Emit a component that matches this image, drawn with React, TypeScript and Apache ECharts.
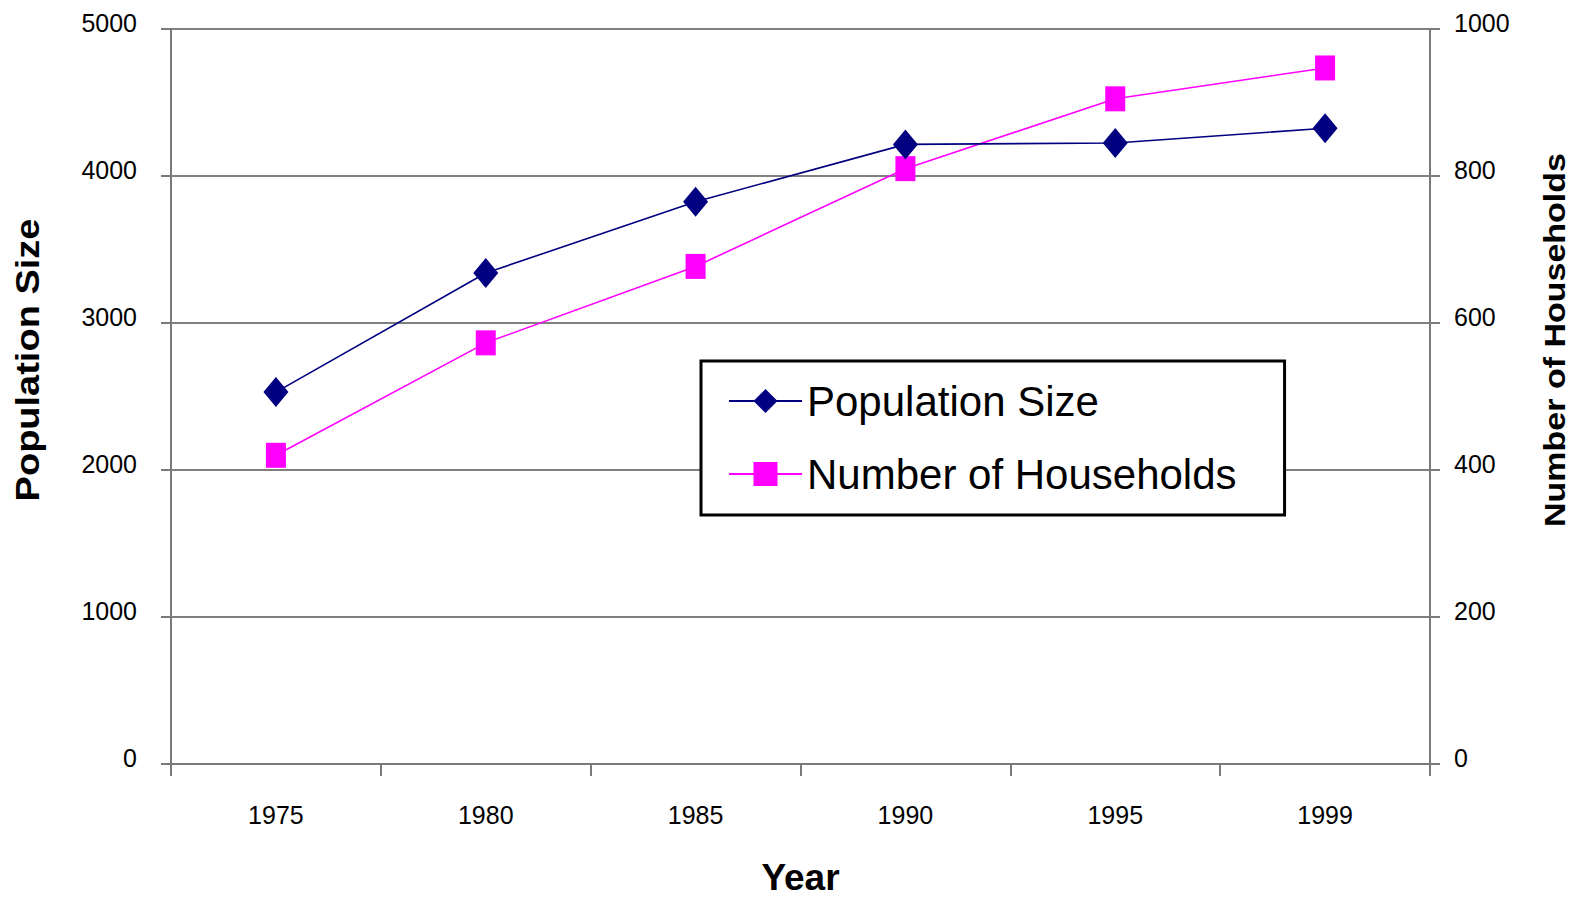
import React, { useEffect, useRef } from "react";
import * as echarts from "echarts";

const years = ["1975", "1980", "1985", "1990", "1995", "1999"];
const populationSize = [2530, 3340, 3825, 4215, 4225, 4325];
const households = [420, 573, 677, 810, 905, 947];

const leftTitle = "Population Size";
const rightTitle = "Number of Households";
const xTitle = "Year";

const FONT = "'Liberation Sans', Arial, sans-serif";
const AXIS_GRAY = "#7a7a7a";

export default function App() {
  const ref = useRef<HTMLDivElement>(null);
  useEffect(() => {
    const chart = echarts.init(ref.current!, null, { renderer: "svg" });
    const plain = (v: number) => String(v);
    chart.setOption({
      animation: false,
      backgroundColor: "#ffffff",
      grid: {
        left: 171,
        right: 151,
        top: 29,
        bottom: 133,
        containLabel: false,
        outerBoundsMode: "none",
      },
      legend: {
        orient: "vertical",
        left: 701,
        top: 361,
        padding: [19, 48, 20, 27],
        itemWidth: 73,
        itemHeight: 30,
        itemGap: 31,
        borderColor: "#000",
        borderWidth: 3,
        backgroundColor: "#fff",
        textStyle: { fontFamily: FONT, fontSize: 42, color: "#000" },
        data: [leftTitle, rightTitle],
      },
      xAxis: {
        type: "category",
        data: years,
        boundaryGap: true,
        name: xTitle,
        nameLocation: "middle",
        nameGap: 97,
        nameTextStyle: { fontFamily: FONT, fontWeight: "bold", fontSize: 37, lineHeight: 32, color: "#000" },
        axisLine: { lineStyle: { color: AXIS_GRAY, width: 2 } },
        axisTick: { show: true, length: 12, lineStyle: { color: AXIS_GRAY, width: 2 } },
        axisLabel: { margin: 38, fontFamily: FONT, fontSize: 25, color: "#000" },
        splitLine: { show: false },
      },
      yAxis: [
        {
          type: "value",
          min: 0,
          max: 5000,
          interval: 1000,
          position: "left",
          axisLine: { show: true, lineStyle: { color: AXIS_GRAY, width: 2 } },
          axisTick: { show: true, length: 10, lineStyle: { color: AXIS_GRAY, width: 2 } },
          axisLabel: {
            margin: 34,
            fontFamily: FONT,
            fontSize: 25,
            color: "#000",
            formatter: plain,
            verticalAlign: "bottom",
            lineHeight: 12,
          },
          splitLine: { show: true, lineStyle: { color: "#808080", width: 2 } },
        },
        {
          type: "value",
          min: 0,
          max: 1000,
          interval: 200,
          position: "right",
          axisLine: { show: true, lineStyle: { color: AXIS_GRAY, width: 2 } },
          axisTick: { show: true, length: 10, lineStyle: { color: AXIS_GRAY, width: 2 } },
          axisLabel: {
            margin: 24,
            fontFamily: FONT,
            fontSize: 25,
            color: "#000",
            formatter: plain,
            verticalAlign: "bottom",
            lineHeight: 12,
          },
          splitLine: { show: false },
        },
      ],
      series: [
        {
          name: leftTitle,
          type: "line",
          yAxisIndex: 0,
          data: populationSize,
          symbol: "diamond",
          symbolSize: [25, 30],
          itemStyle: { color: "#000080" },
          lineStyle: { color: "#000080", width: 1.6 },
          z: 3,
        },
        {
          name: rightTitle,
          type: "line",
          yAxisIndex: 1,
          data: households,
          symbol: "rect",
          symbolSize: [20, 25],
          itemStyle: { color: "#ff00ff" },
          lineStyle: { color: "#ff00ff", width: 1.6 },
          z: 2,
        },
      ],
      graphic: [
        {
          type: "text",
          x: 28,
          y: 360,
          rotation: Math.PI / 2,
          scaleY: 0.85,
          style: {
            text: leftTitle,
            fontFamily: FONT,
            fontWeight: "bold",
            fontSize: 38,
            fill: "#000",
            align: "center",
            verticalAlign: "middle",
          },
        },
        {
          type: "text",
          x: 1555,
          y: 340,
          rotation: Math.PI / 2,
          scaleY: 0.85,
          style: {
            text: rightTitle,
            fontFamily: FONT,
            fontWeight: "bold",
            fontSize: 34,
            fill: "#000",
            align: "center",
            verticalAlign: "middle",
          },
        },
      ],
    });
    return () => chart.dispose();
  }, []);
  return <div ref={ref} style={{ position: "fixed", left: 0, top: 0, width: 1581, height: 897 }} />;
}
